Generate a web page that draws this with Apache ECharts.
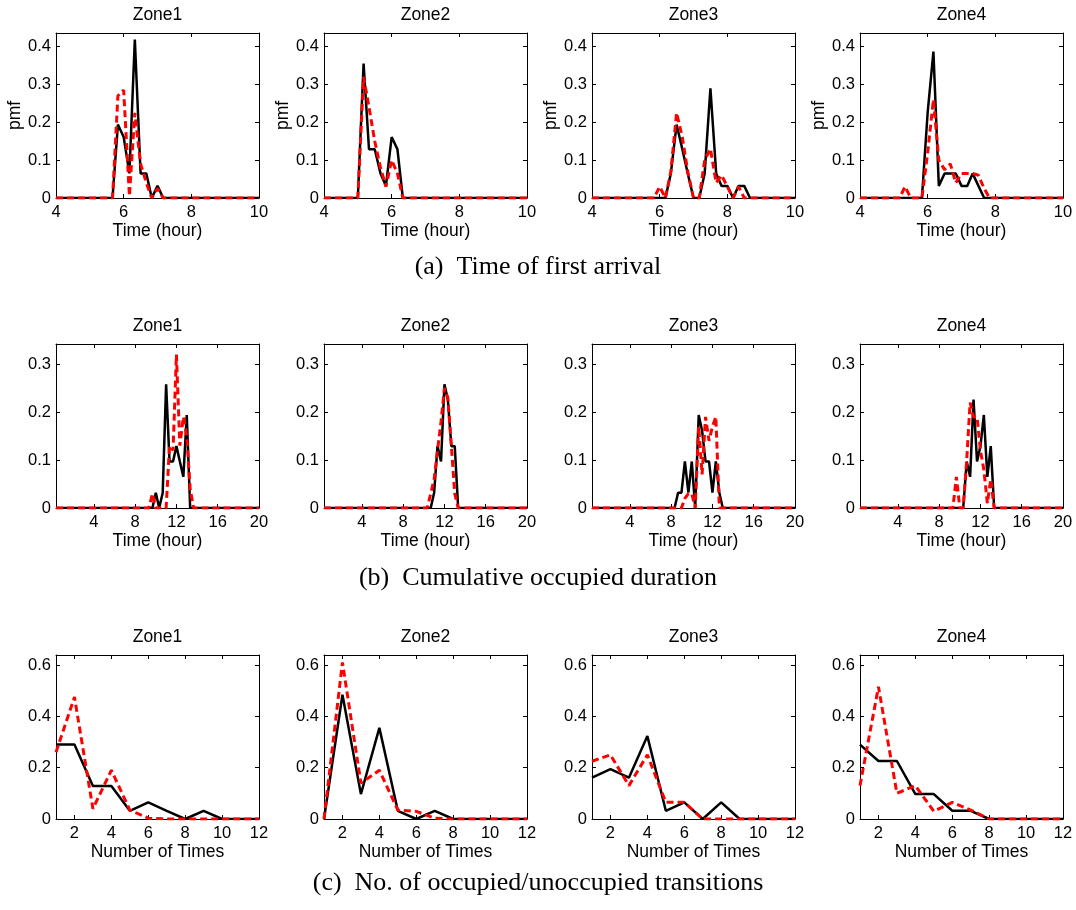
<!DOCTYPE html>
<html><head><meta charset="utf-8">
<script src="https://cdn.jsdelivr.net/npm/echarts@6/dist/echarts.min.js"></script>
<style>html,body{margin:0;padding:0;background:#fff}#c{width:1076px;height:910px}</style>
</head><body><div id="c"></div><script>
// ---------- labels ----------
const zones = ['Zone1', 'Zone2', 'Zone3', 'Zone4'];
const captions = ['(a)  Time of first arrival', '(b)  Cumulative occupied duration', '(c)  No. of occupied/unoccupied transitions'];

// ---------- (a) Time of first arrival ----------
const arrivalX = [4, 4.83, 5, 5.17, 5.33, 5.5, 5.67, 5.83, 6, 6.17, 6.33, 6.5, 6.67, 6.83, 7, 7.17, 7.33, 7.5, 7.67, 7.83, 8, 8.17, 8.33, 8.5, 8.67, 8.83, 10];
const arrivalBlack1 = [0, 0, 0, 0, 0, 0, 0, 0.194, 0.161, 0.065, 0.419, 0.065, 0.065, 0, 0.032, 0, 0, 0, 0, 0, 0, 0, 0, 0, 0, 0, 0];
const arrivalRed1   = [0, 0, 0, 0, 0, 0, 0, 0.27, 0.285, 0.005, 0.225, 0.09, 0.04, 0, 0.025, 0, 0, 0, 0, 0, 0, 0, 0, 0, 0, 0, 0];
const arrivalBlack2 = [0, 0, 0, 0.355, 0.129, 0.129, 0.065, 0.032, 0.161, 0.129, 0, 0, 0, 0, 0, 0, 0, 0, 0, 0, 0, 0, 0, 0, 0, 0, 0];
const arrivalRed2   = [0, 0, 0, 0.32, 0.24, 0.15, 0.08, 0.03, 0.1, 0.065, 0, 0, 0, 0, 0, 0, 0, 0, 0, 0, 0, 0, 0, 0, 0, 0, 0];
const arrivalBlack3 = [0, 0, 0, 0, 0, 0, 0, 0, 0, 0, 0.065, 0.194, 0.129, 0.065, 0, 0, 0.065, 0.29, 0.065, 0.032, 0.032, 0, 0.032, 0.032, 0, 0, 0];
const arrivalRed3   = [0, 0, 0, 0, 0, 0, 0, 0, 0.03, 0, 0.07, 0.225, 0.16, 0.07, 0, 0, 0.1, 0.13, 0.04, 0.06, 0.03, 0, 0.03, 0, 0, 0, 0];
const arrivalBlack4 = [0, 0, 0, 0, 0, 0, 0, 0, 0.226, 0.387, 0.032, 0.065, 0.065, 0.065, 0.032, 0.032, 0.065, 0.032, 0, 0, 0, 0, 0, 0, 0, 0, 0];
const arrivalRed4   = [0, 0, 0, 0, 0.03, 0, 0, 0, 0.12, 0.26, 0.1, 0.075, 0.09, 0.04, 0.065, 0.065, 0.065, 0.06, 0.025, 0, 0, 0, 0, 0, 0, 0, 0];
const arrivalXTicks = [4, 6, 8, 10];
const arrivalYTicks = [0, 0.1, 0.2, 0.3, 0.4];

// ---------- (b) Cumulative occupied duration ----------
const durationX = [0.33, 8, 8.33, 8.67, 9, 9.33, 9.67, 10, 10.33, 10.67, 11, 11.33, 11.67, 12, 12.33, 12.67, 13, 13.33, 13.67, 14, 20];
const durationBlack1 = [0, 0, 0, 0, 0, 0, 0, 0.032, 0, 0.032, 0.258, 0.097, 0.097, 0.129, 0.097, 0.065, 0.194, 0, 0, 0, 0];
const durationRed1   = [0, 0, 0, 0, 0, 0, 0.03, 0, 0, 0, 0, 0.13, 0.12, 0.32, 0.13, 0.19, 0.15, 0.04, 0, 0, 0];
const durationBlack2 = [0, 0, 0, 0, 0, 0, 0, 0, 0, 0, 0.032, 0.129, 0.097, 0.258, 0.226, 0.129, 0.129, 0, 0, 0, 0];
const durationRed2   = [0, 0, 0, 0, 0, 0, 0, 0, 0, 0.03, 0.06, 0.12, 0.18, 0.25, 0.23, 0.13, 0.03, 0, 0, 0, 0];
const durationBlack3 = [0, 0, 0, 0.032, 0.032, 0.097, 0.032, 0.097, 0, 0.194, 0.161, 0.097, 0.097, 0.032, 0.097, 0.032, 0, 0, 0, 0, 0];
const durationRed3   = [0, 0, 0, 0, 0, 0.02, 0.03, 0.03, 0, 0.17, 0.07, 0.19, 0.14, 0.17, 0.19, 0, 0, 0, 0, 0, 0];
const durationBlack4 = [0, 0, 0, 0, 0, 0, 0, 0, 0, 0.097, 0.065, 0.226, 0.097, 0.129, 0.194, 0.065, 0.129, 0, 0, 0, 0];
const durationRed4   = [0, 0, 0, 0, 0, 0, 0.065, 0, 0, 0.1, 0.22, 0.19, 0.19, 0.12, 0.08, 0.01, 0.06, 0, 0, 0, 0];
const durationXTicks = [4, 8, 12, 16, 20];
const durationYTicks = [0, 0.1, 0.2, 0.3];

// ---------- (c) No. of occupied/unoccupied transitions ----------
const transX = [1, 2, 3, 4, 5, 6, 7, 8, 9, 10, 11, 12];
const transBlack1 = [0.29, 0.29, 0.129, 0.129, 0.032, 0.065, 0.032, 0, 0.032, 0, 0, 0];
const transRed1   = [0.26, 0.475, 0.04, 0.19, 0.035, 0.003, 0, 0, 0, 0, 0, 0];
const transBlack2 = [0, 0.484, 0.097, 0.355, 0.032, 0, 0.032, 0, 0, 0, 0, 0];
const transRed2   = [0, 0.61, 0.14, 0.19, 0.035, 0.03, 0.003, 0, 0, 0, 0, 0];
const transBlack3 = [0.161, 0.194, 0.161, 0.323, 0.032, 0.065, 0, 0.065, 0, 0, 0, 0];
const transRed3   = [0.225, 0.25, 0.13, 0.25, 0.065, 0.065, 0, 0, 0, 0, 0, 0];
const transBlack4 = [0.29, 0.226, 0.226, 0.097, 0.097, 0.032, 0.032, 0, 0, 0, 0, 0];
const transRed4   = [0.13, 0.515, 0.1, 0.13, 0.03, 0.065, 0.035, 0, 0, 0, 0, 0];
const transXTicks = [2, 4, 6, 8, 10, 12];
const transYTicks = [0, 0.2, 0.4, 0.6];

// ---------- layout ----------
const rows = [
  { x: arrivalX, black: [arrivalBlack1, arrivalBlack2, arrivalBlack3, arrivalBlack4], red: [arrivalRed1, arrivalRed2, arrivalRed3, arrivalRed4],
    xMin: 4, xMax: 10, yMax: 0.436, xTicks: arrivalXTicks, yTicks: arrivalYTicks, xName: 'Time (hour)', yName: 'pmf', top: 33, height: 165, capY: 267 },
  { x: durationX, black: [durationBlack1, durationBlack2, durationBlack3, durationBlack4], red: [durationRed1, durationRed2, durationRed3, durationRed4],
    xMin: 0.33, xMax: 20, yMax: 0.342, xTicks: durationXTicks, yTicks: durationYTicks, xName: 'Time (hour)', yName: '', top: 344, height: 164, capY: 578 },
  { x: transX, black: [transBlack1, transBlack2, transBlack3, transBlack4], red: [transRed1, transRed2, transRed3, transRed4],
    xMin: 1, xMax: 12, yMax: 0.639, xTicks: transXTicks, yTicks: transYTicks, xName: 'Number of Times', yName: '', top: 655, height: 164, capY: 883 }
];
const colLeft = [56, 324, 592, 860];
const plotW = 203;
const FONT = 'Liberation Sans';

const grid = [], xAxis = [], yAxis = [], series = [], graphic = [];
let g = 0;
rows.forEach((r, ri) => {
  colLeft.forEach((left, ci) => {
    grid.push({ left: left, top: r.top, width: plotW, height: r.height, containLabel: false });
    const tickStyle = { show: true, inside: true, length: 4, lineStyle: { color: '#000', width: 1 } };
    xAxis.push({
      type: 'value', gridIndex: g, position: 'bottom', min: r.xMin, max: r.xMax,
      name: r.xName, nameLocation: 'middle', nameGap: 22,
      nameTextStyle: { fontFamily: FONT, fontSize: 17.5, color: '#000' },
      axisLine: { show: true, onZero: false, lineStyle: { color: '#000', width: 1 } },
      axisTick: Object.assign({ customValues: r.xTicks }, tickStyle),
      axisLabel: { customValues: r.xTicks, margin: 6, fontFamily: FONT, fontSize: 16.5, color: '#000' },
      splitLine: { show: false }
    });
    xAxis.push({
      type: 'value', gridIndex: g, position: 'top', min: r.xMin, max: r.xMax,
      axisLine: { show: true, onZero: false, lineStyle: { color: '#000', width: 1 } },
      axisTick: Object.assign({ customValues: r.xTicks }, tickStyle),
      axisLabel: { show: false }, splitLine: { show: false }
    });
    yAxis.push({
      type: 'value', gridIndex: g, position: 'left', min: 0, max: r.yMax,
      name: r.yName, nameLocation: 'middle', nameGap: 30,
      nameTextStyle: { fontFamily: FONT, fontSize: 17.5, color: '#000' },
      axisLine: { show: true, onZero: false, lineStyle: { color: '#000', width: 1 } },
      axisTick: Object.assign({ customValues: r.yTicks }, tickStyle),
      axisLabel: { customValues: r.yTicks, margin: 5, fontFamily: FONT, fontSize: 16.5, color: '#000', formatter: v => String(v) },
      splitLine: { show: false }
    });
    yAxis.push({
      type: 'value', gridIndex: g, position: 'right', min: 0, max: r.yMax,
      axisLine: { show: true, onZero: false, lineStyle: { color: '#000', width: 1 } },
      axisTick: Object.assign({ customValues: r.yTicks }, tickStyle),
      axisLabel: { show: false }, splitLine: { show: false }
    });
    series.push({
      type: 'line', xAxisIndex: 2 * g, yAxisIndex: 2 * g, symbol: 'none', silent: true,
      data: r.x.map((xv, i) => [xv, r.black[ci][i]]),
      lineStyle: { color: '#000', width: 2.5, type: 'solid' }, z: 2
    });
    series.push({
      type: 'line', xAxisIndex: 2 * g, yAxisIndex: 2 * g, symbol: 'none', silent: true,
      data: r.x.map((xv, i) => [xv, r.red[ci][i]]),
      lineStyle: { color: '#ff0000', width: 3, type: [7, 4] }, z: 3
    });
    graphic.push({
      type: 'text', x: left + plotW / 2, y: r.top - 18,
      style: { text: zones[ci], fontFamily: FONT, fontSize: 17.5, fill: '#000', textAlign: 'center', textVerticalAlign: 'middle' }
    });
    g++;
  });
  graphic.push({
    type: 'text', x: 538, y: r.capY,
    style: { text: captions[ri], fontFamily: 'Liberation Serif', fontSize: 26, fill: '#000', textAlign: 'center', textVerticalAlign: 'middle' }
  });
});

const chart = echarts.init(document.getElementById('c'), null, { renderer: 'canvas' });
chart.setOption({ animation: false, backgroundColor: '#fff', grid, xAxis, yAxis, series, graphic });
</script></body></html>
